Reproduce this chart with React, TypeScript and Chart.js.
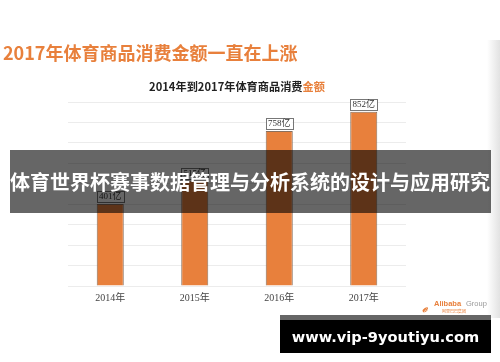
import React, { useEffect, useRef } from "react";
import { Chart, registerables } from "chart.js";

Chart.register(...registerables);

const categories = ["2014年", "2015年", "2016年", "2017年"];
const values = [401, 515, 758, 852];
const valueLabels = ["401亿", "515亿", "758亿", "852亿"];
const yTicks = [0, 100, 200, 300, 400, 500, 600, 700, 800, 900];

const ORANGE = "#e8803c";
const CJK = '"Noto Sans CJK SC", "Noto Sans", sans-serif';
const SERIF = '"Liberation Serif", "DejaVu Serif", "Noto Sans CJK SC", serif';

const labelPlugin = {
  id: "valueBoxes",
  afterDatasetsDraw(chart: any) {
    const ctx = chart.ctx;
    const meta = chart.getDatasetMeta(0);
    ctx.save();
    ctx.font = `9px ${SERIF}`;
    ctx.textAlign = "center";
    ctx.textBaseline = "middle";
    meta.data.forEach((bar: any, i: number) => {
      const text = valueLabels[i];
      const w = ctx.measureText(text).width + 4;
      const h = 11;
      const x = bar.x - w / 2;
      const y = bar.y - h - 2;
      ctx.fillStyle = "#ffffff";
      ctx.fillRect(x, y, w, h);
      ctx.strokeStyle = "#777";
      ctx.lineWidth = 1;
      ctx.strokeRect(Math.round(x) + 0.5, Math.round(y) + 0.5, Math.round(w), h);
      ctx.fillStyle = "#333";
      ctx.fillText(text, bar.x, y + h / 2 + 0.5);
    });
    ctx.restore();
  },
};

function ChartCanvas() {
  const ref = useRef<HTMLCanvasElement | null>(null);
  useEffect(() => {
    if (!ref.current) return;
    const chart = new Chart(ref.current, {
      type: "bar",
      data: {
        labels: categories,
        datasets: [
          {
            data: values,
            backgroundColor: ORANGE,
            borderColor: "#8a6f5c",
            borderWidth: 1,
            barPercentage: 0.32,
            categoryPercentage: 1,
          },
        ],
      },
      options: {
        responsive: false,
        animation: false,
        maintainAspectRatio: false,
        layout: { padding: { left: 68, right: 94, top: 102, bottom: 52 } },
        plugins: { legend: { display: false }, tooltip: { enabled: false }, title: { display: false } },
        scales: {
          x: {
            grid: { display: false, drawTicks: false },
            border: { display: false },
            ticks: { color: "#444", font: { family: SERIF, size: 10 }, padding: 6 },
          },
          y: {
            min: 0,
            max: 900,
            afterBuildTicks: (scale: any) => {
              scale.ticks = yTicks.map((v) => ({ value: v }));
            },
            grid: { color: "#ececec", drawTicks: false, lineWidth: 1 },
            border: { display: false },
            ticks: { display: false },
          },
        },
      },
      plugins: [labelPlugin],
    } as any);
    return () => chart.destroy();
  }, []);
  return <canvas ref={ref} width={500} height={362} style={{ position: "absolute", left: 0, top: 0, width: 500, height: 362 }} />;
}

export default function App() {
  return (
    <div style={{ position: "fixed", left: 0, top: 0, width: 500, height: 362, background: "#fff", overflow: "hidden" }}>
      <div style={{ position: "absolute", left: 487, top: 40, width: 13, height: 278, background: "linear-gradient(to right, #ffffff, #e2e2e2)" }} />
      <ChartCanvas />
      <div style={{ position: "absolute", left: 3, top: 40, fontFamily: CJK, fontWeight: 700, fontSize: 18, lineHeight: "24px", color: ORANGE, whiteSpace: "nowrap" }}>
        2017年体育商品消费金额一直在上涨
      </div>
      <div style={{ position: "absolute", left: 0, width: 474, top: 79, textAlign: "center", fontFamily: CJK, fontWeight: 700, fontSize: 11.2, lineHeight: "15px", color: "#222", whiteSpace: "nowrap" }}>
        2014年到2017年体育商品消费<span style={{ color: ORANGE }}>金额</span>
      </div>
      <div style={{ position: "absolute", left: 10, top: 150, width: 481, height: 63, background: "rgba(0,0,0,0.6)" }} />
      <div style={{ position: "absolute", left: 0, top: 150, width: 500, height: 63, display: "flex", alignItems: "center", justifyContent: "center", fontFamily: CJK, fontWeight: 700, fontSize: 20, color: "#fff", whiteSpace: "nowrap" }}>
        体育世界杯赛事数据管理与分析系统的设计与应用研究
      </div>
      <div style={{ position: "absolute", left: 422, top: 299, width: 78, height: 16, fontFamily: '"Liberation Sans", sans-serif', whiteSpace: "nowrap" }}>
        <span style={{ position: "absolute", left: 0, top: 1, fontSize: 11, fontWeight: 700, color: "#e8803c", fontStyle: "italic" }}>ℯ</span>
        <span style={{ position: "absolute", left: 12, top: 0, fontSize: 7.5, fontWeight: 700, color: "#e8803c" }}>Alibaba</span>
        <span style={{ position: "absolute", left: 44, top: 0, fontSize: 7.5, color: "#999" }}>Group</span>
        <span style={{ position: "absolute", left: 20, top: 9, fontSize: 4, color: "#e8803c", fontFamily: CJK }}>阿里巴巴集团</span>
      </div>
      <div style={{ position: "absolute", left: 280, top: 315, width: 211, height: 5, background: "#666" }} />
      <div style={{ position: "absolute", left: 280, top: 320, width: 211, height: 33, background: "#000", display: "flex", alignItems: "center", justifyContent: "center", fontFamily: '"DejaVu Sans", sans-serif', fontWeight: 700, fontSize: 14.6, color: "#fff", whiteSpace: "nowrap" }}>
        www.vip-9youtiyu.com
      </div>
    </div>
  );
}
